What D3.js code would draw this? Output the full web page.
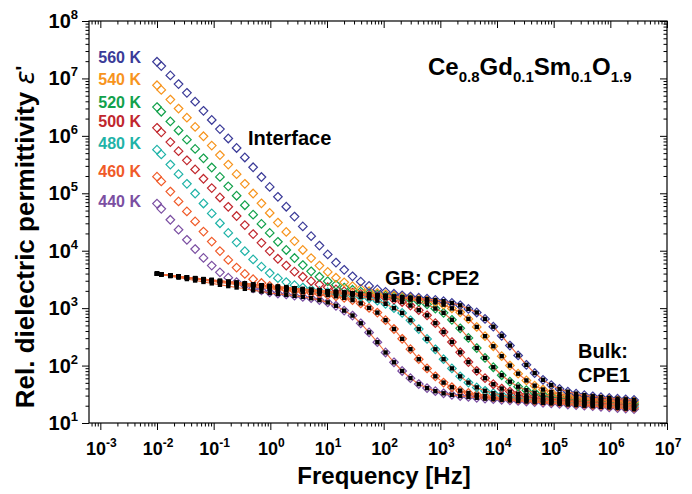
<!DOCTYPE html>
<html>
<head>
<meta charset="utf-8">
<script src="https://cdn.jsdelivr.net/npm/d3@7"></script>
<style>
  html, body { margin: 0; padding: 0; background: #ffffff; }
  text { font-family: "Liberation Sans", Arial, Helvetica, sans-serif; font-weight: bold; }
</style>
</head>
<body>
<svg id="chart" width="692" height="494"></svg>
<script>
// Measurement frequencies [Hz]
const frequency = [0.01, 0.0119, 0.0172, 0.0240, 0.0337, 0.0471, 0.0661, 0.0925, 0.129, 0.181,
  0.254, 0.355, 0.497, 0.697, 0.975, 1.36, 1.91, 2.67, 3.74, 5.25,
  7.35, 10.3, 14.4, 20.1, 28.2, 39.4, 55.3, 77.4, 108, 152,
  212, 297, 416, 583, 817, 1140, 1600, 2240, 3130, 4390,
  6150, 8610, 12100, 16900, 23600, 33000, 46200, 64900, 90800, 127000,
  178000, 249000, 348000, 489000, 684000, 957000, 1340000, 1870000, 2620000];

// Measured relative permittivity eps' per temperature
const eps440 = [66100, 53600, 34600, 23200, 15500, 10700, 7500, 5500, 4200, 3390,
  2840, 2480, 2220, 2040, 1890, 1800, 1730, 1650, 1570, 1490,
  1380, 1260, 1100, 906, 743, 545, 378, 255, 169, 114,
  80.5, 60.4, 47.6, 40.5, 35.8, 32.9, 30.9, 29.5, 28.4, 27.5,
  26.6, 26.0, 25.4, 24.8, 24.2, 23.7, 23.1, 22.5, 22.0, 21.5,
  21.0, 20.5, 20.0, 19.6, 19.1, 18.7, 18.2, 17.8, 17.4];
const eps460 = [195000, 161000, 107000, 72300, 48400, 32400, 21500, 14400, 9840, 6920,
  5080, 3940, 3190, 2740, 2430, 2230, 2110, 2010, 1930, 1850,
  1770, 1700, 1610, 1510, 1380, 1210, 1010, 836, 618, 433,
  292, 193, 129, 89.1, 65.0, 50.5, 41.9, 36.6, 33.3, 31.0,
  29.5, 28.2, 27.3, 26.5, 25.8, 25.2, 24.5, 24.0, 23.4, 22.9,
  22.4, 21.8, 21.3, 20.8, 20.4, 19.9, 19.4, 19.0, 18.5];
const eps480 = [575000, 475000, 316000, 215000, 146000, 99100, 66400, 44600, 30100, 20400,
  14000, 9800, 7060, 5270, 4080, 3330, 2840, 2510, 2280, 2120,
  2000, 1900, 1820, 1740, 1670, 1580, 1480, 1350, 1190, 1000,
  826, 614, 432, 291, 192, 129, 89.3, 64.9, 50.5, 41.7,
  36.4, 33.0, 30.7, 29.2, 28.0, 27.0, 26.2, 25.5, 24.9, 24.3,
  23.8, 23.2, 22.6, 22.1, 21.6, 21.1, 20.6, 20.1, 19.7];
const eps500 = [1380000, 1150000, 778000, 541000, 375000, 260000, 179000, 123000, 84500, 58200,
  40200, 27900, 19500, 13700, 9860, 7240, 5520, 4320, 3520, 2950,
  2580, 2310, 2120, 1970, 1870, 1770, 1690, 1610, 1520, 1410,
  1280, 1110, 923, 750, 548, 384, 257, 170, 115, 80.9,
  60.3, 47.3, 39.8, 35.2, 32.2, 30.2, 28.7, 27.6, 26.8, 26.0,
  25.4, 24.7, 24.1, 23.6, 23.0, 22.4, 21.9, 21.4, 20.9];
const eps520 = [3170000, 2630000, 1780000, 1240000, 859000, 593000, 407000, 281000, 193000, 132000,
  90600, 61900, 42500, 29300, 20400, 14300, 10300, 7460, 5620, 4380,
  3520, 2940, 2550, 2280, 2090, 1940, 1830, 1740, 1660, 1590,
  1510, 1420, 1300, 1160, 984, 828, 627, 445, 303, 202,
  136, 93.5, 67.9, 52.5, 42.9, 37.2, 33.6, 31.1, 29.5, 28.3,
  27.3, 26.5, 25.8, 25.1, 24.5, 23.9, 23.3, 22.8, 22.3];
const eps540 = [7600000, 6310000, 4280000, 2990000, 2070000, 1430000, 984000, 676000, 463000, 316000,
  215000, 146000, 99100, 67000, 45400, 30900, 21200, 14700, 10300, 7430,
  5510, 4270, 3380, 2810, 2420, 2160, 1980, 1840, 1740, 1660,
  1580, 1520, 1450, 1370, 1270, 1150, 989, 845, 650, 471,
  325, 217, 146, 100, 72.3, 55.1, 44.7, 38.3, 34.4, 31.8,
  30.1, 28.7, 27.7, 26.9, 26.1, 25.4, 24.8, 24.2, 23.7];
const eps560 = [19500000, 16400000, 11300000, 7980000, 5610000, 3930000, 2730000, 1890000, 1310000, 900000,
  615000, 420000, 284000, 192000, 129000, 86900, 58300, 39300, 26500, 17900,
  12300, 8630, 6220, 4650, 3580, 2890, 2430, 2120, 1920, 1780,
  1670, 1590, 1520, 1460, 1390, 1320, 1230, 1120, 971, 840,
  649, 475, 330, 223, 150, 103, 74.0, 56.4, 45.7, 39.1,
  35.1, 32.4, 30.5, 29.2, 28.1, 27.3, 26.5, 25.8, 25.2];

// Equivalent-circuit fit (bulk CPE1 + grain boundary CPE2) per temperature
const fit440 = [3980, 3850, 3610, 3400, 3210, 3030, 2860, 2700, 2550, 2420,
  2290, 2170, 2050, 1950, 1840, 1770, 1710, 1640, 1570, 1490,
  1380, 1260, 1100, 906, 743, 545, 378, 255, 169, 114,
  80.5, 60.4, 47.6, 40.5, 35.8, 32.9, 30.9, 29.5, 28.4, 27.5,
  26.6, 26.0, 25.4, 24.8, 24.2, 23.7, 23.1, 22.5, 22.0, 21.5,
  21.0, 20.5, 20.0, 19.6, 19.1, 18.7, 18.2, 17.8, 17.4];
const fit460 = [3970, 3870, 3670, 3520, 3350, 3200, 3050, 2920, 2790, 2680,
  2560, 2450, 2360, 2260, 2170, 2090, 2030, 1970, 1910, 1840,
  1770, 1700, 1610, 1510, 1380, 1210, 1010, 836, 618, 433,
  292, 193, 129, 89.1, 65.0, 50.5, 41.9, 36.6, 33.3, 31.0,
  29.5, 28.2, 27.3, 26.5, 25.8, 25.2, 24.5, 24.0, 23.4, 22.9,
  22.4, 21.8, 21.3, 20.8, 20.4, 19.9, 19.4, 19.0, 18.5];
const fit480 = [3970, 3880, 3700, 3550, 3400, 3270, 3130, 3010, 2880, 2770,
  2670, 2570, 2470, 2380, 2300, 2220, 2160, 2090, 2030, 1970,
  1910, 1850, 1790, 1730, 1660, 1580, 1480, 1350, 1190, 1000,
  826, 614, 432, 291, 192, 129, 89.3, 64.9, 50.5, 41.7,
  36.4, 33.0, 30.7, 29.2, 28.0, 27.0, 26.2, 25.5, 24.9, 24.3,
  23.8, 23.2, 22.6, 22.1, 21.6, 21.1, 20.6, 20.1, 19.7];
const fit500 = [3970, 3890, 3720, 3570, 3430, 3300, 3170, 3050, 2940, 2840,
  2740, 2640, 2550, 2460, 2380, 2300, 2230, 2170, 2100, 2040,
  1980, 1920, 1870, 1820, 1770, 1710, 1650, 1580, 1510, 1400,
  1280, 1110, 923, 750, 548, 384, 257, 170, 115, 80.9,
  60.3, 47.3, 39.8, 35.2, 32.2, 30.2, 28.7, 27.6, 26.8, 26.0,
  25.4, 24.7, 24.1, 23.6, 23.0, 22.4, 21.9, 21.4, 20.9];
const fit520 = [3970, 3890, 3720, 3590, 3450, 3330, 3200, 3090, 2980, 2880,
  2780, 2690, 2590, 2510, 2430, 2360, 2290, 2220, 2150, 2090,
  2030, 1970, 1920, 1860, 1820, 1770, 1720, 1670, 1620, 1560,
  1490, 1410, 1300, 1160, 984, 828, 627, 445, 303, 202,
  136, 93.5, 67.9, 52.5, 42.9, 37.2, 33.6, 31.1, 29.5, 28.3,
  27.3, 26.5, 25.8, 25.1, 24.5, 23.9, 23.3, 22.8, 22.3];
const fit540 = [3970, 3890, 3720, 3590, 3450, 3330, 3200, 3090, 2980, 2880,
  2780, 2690, 2590, 2510, 2430, 2360, 2290, 2220, 2150, 2090,
  2030, 1970, 1920, 1870, 1820, 1770, 1730, 1680, 1640, 1590,
  1550, 1500, 1440, 1360, 1270, 1150, 989, 845, 650, 471,
  325, 217, 146, 100, 72.3, 55.1, 44.7, 38.3, 34.4, 31.8,
  30.1, 28.7, 27.7, 26.9, 26.1, 25.4, 24.8, 24.2, 23.7];
const fit560 = [3970, 3890, 3720, 3590, 3450, 3330, 3200, 3090, 2980, 2880,
  2780, 2690, 2590, 2510, 2430, 2360, 2290, 2220, 2150, 2090,
  2030, 1970, 1920, 1870, 1820, 1770, 1730, 1690, 1640, 1600,
  1560, 1520, 1480, 1440, 1380, 1320, 1230, 1120, 971, 840,
  649, 475, 330, 223, 150, 103, 74.0, 56.4, 45.7, 39.1,
  35.1, 32.4, 30.5, 29.2, 28.1, 27.3, 26.5, 25.8, 25.2];

const temperatures = ["440 K", "460 K", "480 K", "500 K", "520 K", "540 K", "560 K"];
const seriesColors = ["#7b4fa2", "#f05a28", "#1fb3a8", "#c1272d", "#12a14b", "#f7941d", "#3b3b98"];
const measured = [eps440, eps460, eps480, eps500, eps520, eps540, eps560];
const fitted = [fit440, fit460, fit480, fit500, fit520, fit540, fit560];

const xTickExponents = [-3, -2, -1, 0, 1, 2, 3, 4, 5, 6, 7];
const yTickExponents = [1, 2, 3, 4, 5, 6, 7, 8];

// ---- layout ----
const svg = d3.select("#chart");
const plot = { left: 89, right: 667, top: 21, bottom: 423 };

const x = d3.scaleLog().domain([Math.pow(10, -3.2), 1e7]).range([plot.left, plot.right]);
const y = d3.scaleLog().domain([10, 1e8]).range([plot.bottom, plot.top]);

// minor tick positions (2..9 per decade) inside each domain
function minorTicks(scale, lo, hi) {
  const out = [];
  const [d0, d1] = scale.domain();
  for (let e = lo; e <= hi; e++) {
    for (let m = 2; m <= 9; m++) {
      const v = m * Math.pow(10, e);
      if (v >= d0 * 0.999 && v <= d1 * 1.001) out.push(v);
    }
  }
  return out;
}
const xMajor = xTickExponents.map(e => Math.pow(10, e));
const yMajor = yTickExponents.map(e => Math.pow(10, e));
const xMinor = minorTicks(x, -4, 6);
const yMinor = minorTicks(y, 1, 7);

function styleAxis(g) {
  g.select(".domain").remove();
  g.selectAll("line").attr("stroke", "#000").attr("stroke-width", 1);
  g.selectAll("text").remove();
}

// bottom (outward), top (inward, pointing down)
svg.append("g").attr("transform", `translate(0,${plot.bottom})`)
  .call(d3.axisBottom(x).tickValues(xMajor).tickSize(7)).call(styleAxis);
svg.append("g").attr("transform", `translate(0,${plot.bottom})`)
  .call(d3.axisBottom(x).tickValues(xMinor).tickSize(3.5)).call(styleAxis);
svg.append("g").attr("transform", `translate(0,${plot.top})`)
  .call(d3.axisTop(x).tickValues(xMajor).tickSize(-7)).call(styleAxis);
svg.append("g").attr("transform", `translate(0,${plot.top})`)
  .call(d3.axisTop(x).tickValues(xMinor).tickSize(-3.5)).call(styleAxis);
// left (outward), right (inward, pointing left)
svg.append("g").attr("transform", `translate(${plot.left},0)`)
  .call(d3.axisLeft(y).tickValues(yMajor).tickSize(7)).call(styleAxis);
svg.append("g").attr("transform", `translate(${plot.left},0)`)
  .call(d3.axisLeft(y).tickValues(yMinor).tickSize(3.5)).call(styleAxis);
svg.append("g").attr("transform", `translate(${plot.right},0)`)
  .call(d3.axisRight(y).tickValues(yMajor).tickSize(-7)).call(styleAxis);
svg.append("g").attr("transform", `translate(${plot.right},0)`)
  .call(d3.axisRight(y).tickValues(yMinor).tickSize(-3.5)).call(styleAxis);

svg.append("rect")
  .attr("x", plot.left).attr("y", plot.top)
  .attr("width", plot.right - plot.left).attr("height", plot.bottom - plot.top)
  .attr("fill", "none").attr("stroke", "#000").attr("stroke-width", 1.2);

// power-of-ten tick labels
xTickExponents.forEach((e, i) => {
  const t = svg.append("text")
    .attr("x", x(xMajor[i]) + 1).attr("y", 455)
    .attr("text-anchor", "middle").attr("font-size", 18);
  t.append("tspan").text("10");
  t.append("tspan").attr("dy", -8).attr("font-size", 12).text(String(e));
});
yTickExponents.forEach((e, i) => {
  const t = svg.append("text")
    .attr("x", 78).attr("y", y(yMajor[i]) + 7)
    .attr("text-anchor", "end").attr("font-size", 20);
  t.append("tspan").text("10");
  t.append("tspan").attr("dy", -9).attr("font-size", 13).text(String(e));
});

// axis titles
svg.append("text")
  .attr("x", 384).attr("y", 484)
  .attr("text-anchor", "middle").attr("font-size", 24)
  .text("Frequency [Hz]");
const yTitle = svg.append("text")
  .attr("transform", "translate(34,237) rotate(-90)")
  .attr("text-anchor", "middle").attr("font-size", 26);
yTitle.append("tspan").text("Rel. dielectric permittivity ");
yTitle.append("tspan").attr("font-style", "italic").attr("font-weight", "normal")
  .attr("font-family", "'DejaVu Sans', sans-serif").text("\u03b5");
yTitle.append("tspan").attr("dy", -4).attr("font-size", 20).text("'");

// ---- data marks ----
svg.append("clipPath").attr("id", "plotclip").append("rect")
  .attr("x", plot.left).attr("y", plot.top)
  .attr("width", plot.right - plot.left).attr("height", plot.bottom - plot.top);
const layer = svg.append("g").attr("clip-path", "url(#plotclip)");

const r = 4.3;
const diamondPath = `M0,${-r}L${r},0L0,${r}L${-r},0Z`;

measured.forEach((vals, s) => {
  layer.append("g")
    .selectAll("path")
    .data(vals)
    .join("path")
    .attr("d", diamondPath)
    .attr("transform", (v, i) => `translate(${x(frequency[i])},${y(v)})`)
    .attr("fill", "none")
    .attr("stroke", seriesColors[s])
    .attr("stroke-width", 1.2);
});

const fitLine = d3.line()
  .x((v, i) => x(frequency[i]))
  .y(v => y(v));
fitted.forEach(vals => {
  layer.append("path")
    .attr("d", fitLine(vals))
    .attr("fill", "none")
    .attr("stroke", "#f26b3a")
    .attr("stroke-width", 1.1);
});
const sq = 4.4;
fitted.forEach(vals => {
  layer.append("g")
    .selectAll("rect")
    .data(vals)
    .join("rect")
    .attr("x", (v, i) => x(frequency[i]) - sq / 2)
    .attr("y", v => y(v) - sq / 2)
    .attr("width", sq).attr("height", sq)
    .attr("fill", "#000");
});

// ---- temperature labels ----
const labelY = [206.7, 177.4, 149, 127.4, 108.4, 85, 63];
temperatures.forEach((t, s) => {
  svg.append("text")
    .attr("x", 141).attr("y", labelY[s])
    .attr("text-anchor", "end").attr("font-size", 16)
    .attr("fill", seriesColors[s])
    .text(t);
});

// ---- annotations ----
svg.append("text").attr("x", 248).attr("y", 145).attr("font-size", 20).text("Interface");
svg.append("text").attr("x", 385).attr("y", 285).attr("font-size", 20).text("GB: CPE2");
svg.append("text").attr("x", 578).attr("y", 358).attr("font-size", 20).text("Bulk:");
svg.append("text").attr("x", 578).attr("y", 382).attr("font-size", 20).text("CPE1");

// composition
const formula = [["Ce", "0.8"], ["Gd", "0.1"], ["Sm", "0.1"], ["O", "1.9"]];
const ft = svg.append("text").attr("x", 428).attr("y", 75).attr("font-size", 24);
formula.forEach(([el, sub], i) => {
  ft.append("tspan").attr("dy", i === 0 ? 0 : -7).attr("font-size", 24).text(el);
  ft.append("tspan").attr("dy", 7).attr("font-size", 15).text(sub);
});
</script>
</body>
</html>
